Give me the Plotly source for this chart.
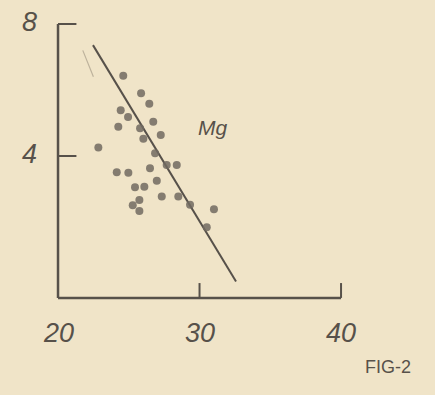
import plotly.graph_objects as go

# Mg scatter: x (20-40 scale) against y (0-8 scale)
mg_x = [24.61, 25.87, 26.45, 24.43, 24.95, 26.73, 24.26, 25.80, 27.26, 26.03,
        22.85, 26.86, 28.39, 27.68, 26.50, 24.15, 24.97, 26.98, 25.44, 26.10,
        27.33, 28.50, 25.75, 25.28, 25.75, 29.33, 31.02, 30.51]
mg_y = [6.43, 5.90, 5.58, 5.39, 5.18, 5.04, 4.89, 4.84, 4.64, 4.52,
        4.26, 4.08, 3.73, 3.73, 3.63, 3.51, 3.49, 3.25, 3.05, 3.07,
        2.77, 2.77, 2.67, 2.51, 2.33, 2.52, 2.39, 1.84]

# Hand-fitted trend line end points
trend_x = [22.47, 32.58]
trend_y = [7.36, 0.20]

x_ticks = [20, 30, 40]
x_tick_labels = ["20", "30", "40"]
y_ticks = [4, 8]
y_tick_labels = ["4", "8"]

X_MIN, X_MAX = 20, 40
Y_BASE, Y_TOP = -0.30, 8

BG = "#f0e4c8"
INK = "#57514a"
DOT = "#716a60"
FONT = "Liberation Sans"

fig = go.Figure()

fig.add_trace(go.Scatter(
    x=trend_x, y=trend_y, mode="lines",
    line=dict(color=INK, width=2), hoverinfo="skip", showlegend=False))

fig.add_trace(go.Scatter(
    x=mg_x, y=mg_y, mode="markers",
    marker=dict(size=8, color=DOT, opacity=0.85, line=dict(width=0)),
    showlegend=False))

shapes = []
# axes
shapes.append(dict(type="line", xref="x", yref="y", x0=X_MIN, x1=X_MIN,
                   y0=Y_BASE, y1=Y_TOP, line=dict(color=INK, width=2.5)))
shapes.append(dict(type="line", xref="x", yref="y", x0=X_MIN, x1=X_MAX,
                   y0=Y_BASE, y1=Y_BASE, line=dict(color=INK, width=2.5)))
# inward tick marks
for xv in x_ticks[1:]:
    shapes.append(dict(type="line", xref="x", yref="y", x0=xv, x1=xv,
                       y0=Y_BASE, y1=Y_BASE + 0.45, line=dict(color=INK, width=2)))
for yv in y_ticks:
    shapes.append(dict(type="line", xref="x", yref="y", x0=X_MIN, x1=X_MIN + 1.3,
                       y0=yv, y1=yv, line=dict(color=INK, width=2)))
# faint pencil stroke beside the trend line
shapes.append(dict(type="line", xref="x", yref="y", x0=21.75, x1=22.5,
                   y0=7.2, y1=6.4, line=dict(color="#bdb29c", width=1.2)))

annotations = []
for xv, lab in zip(x_ticks, x_tick_labels):
    annotations.append(dict(x=xv, y=-1.37, xref="x", yref="y", text="<i>" + lab + "</i>",
                            showarrow=False, xanchor="center", yanchor="middle",
                            font=dict(family=FONT, size=27, color=INK)))
for yv, lab in zip(y_ticks, y_tick_labels):
    annotations.append(dict(x=X_MIN - 2.05, y=yv + 0.05, xref="x", yref="y",
                            text="<i>" + lab + "</i>",
                            showarrow=False, xanchor="center", yanchor="middle",
                            font=dict(family=FONT, size=27, color=INK)))
annotations.append(dict(x=30.9, y=4.85, xref="x", yref="y", text="<i>Mg</i>",
                        showarrow=False, xanchor="center", yanchor="middle",
                        font=dict(family=FONT, size=21, color=INK)))
annotations.append(dict(x=388 / 435, y=1 - 367 / 395, xref="paper", yref="paper",
                        text="FIG-2", showarrow=False, xanchor="center",
                        yanchor="middle",
                        font=dict(family=FONT, size=18, color=INK)))

fig.update_layout(
    width=435, height=395,
    margin=dict(l=0, r=0, t=0, b=0),
    paper_bgcolor=BG, plot_bgcolor=BG,
    xaxis=dict(range=[15.90, 46.64], visible=False, fixedrange=True),
    yaxis=dict(range=[-3.242, 8.727], visible=False, fixedrange=True),
    shapes=shapes, annotations=annotations,
)

fig.write_html("out.html")
